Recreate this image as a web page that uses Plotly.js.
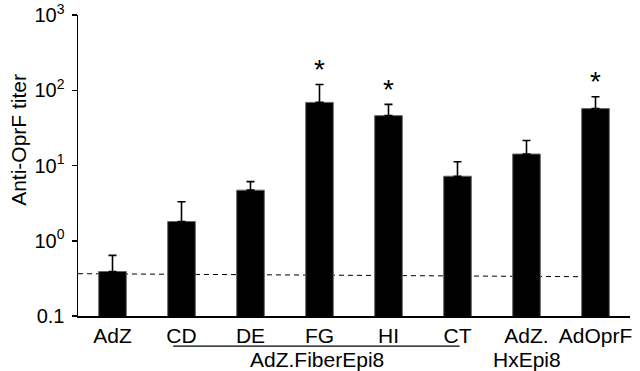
<!DOCTYPE html>
<html>
<head>
<meta charset="utf-8">
<script src="https://cdn.plot.ly/plotly-3.0.1.min.js"></script>
<style>html,body{margin:0;padding:0;background:#fff;}#chart{width:640px;height:371px;}</style>
</head>
<body>
<div id="chart"></div>
<script>
// ---- data ----
const categories = ["AdZ", "CD", "DE", "FG", "HI", "CT", "AdZ.HxEpi8", "AdOprF"];
const tickLabels = ["AdZ", "CD", "DE", "FG", "HI", "CT", "AdZ.", "AdOprF"];
const titerMean = [0.39, 1.8, 4.7, 69, 46, 7.2, 14.2, 57];
const titerUpper = [0.64, 3.3, 6.1, 119, 65, 11.2, 21.5, 82];
const significant = [false, false, false, true, true, false, false, true];
const cutoffStart = 0.365, cutoffEnd = 0.333;
const yTickVals = [0.1, 1, 10, 100, 1000];
const yTickText = ["0.1", "10<sup>0</sup>", "10<sup>1</sup>", "10<sup>2</sup>", "10<sup>3</sup>"];
const yTitle = "Anti-OprF titer";
const groupLabel = "AdZ.FiberEpi8";
const groupMembers = ["CD", "CT"];
const secondLine = {category: "AdZ.HxEpi8", text: "HxEpi8"};

const xIdx = categories.map((c, i) => i);
const errPlus = titerUpper.map((u, i) => u - titerMean[i]);
const FONT = "Arial, 'Liberation Sans', sans-serif";

const trace = {
  type: "bar",
  x: xIdx,
  y: titerMean,
  width: 0.4,
  marker: {color: "#000", line: {color: "#666", width: 1}},
  error_y: {type: "data", symmetric: false, array: errPlus, arrayminus: titerMean.map(() => 0),
            color: "#000", thickness: 1.6, width: 4},
  hoverinfo: "skip"
};

const annotations = [];
significant.forEach((s, i) => {
  if (s) annotations.push({x: i, y: Math.log10(titerUpper[i]), xref: "x", yref: "y", text: "*",
    showarrow: false, yanchor: "middle", yshift: 15, font: {family: FONT, size: 28, color: "#000"}});
});
const g0 = categories.indexOf(groupMembers[0]), g1 = categories.indexOf(groupMembers[1]);
annotations.push({x: (g0 + g1) / 2 - 0.03, y: -0.146, xref: "x", yref: "paper", text: groupLabel, showarrow: false,
  yanchor: "middle", font: {family: FONT, size: 21, color: "#000"}});
annotations.push({x: categories.indexOf(secondLine.category), y: -0.146, xref: "x", yref: "paper", text: secondLine.text,
  showarrow: false, yanchor: "middle", font: {family: FONT, size: 21, color: "#000"}});
annotations.push({x: -0.107, y: 0.585, xref: "paper", yref: "paper", text: yTitle, textangle: -90, showarrow: false,
  xanchor: "center", yanchor: "middle", font: {family: FONT, size: 21, color: "#000"}});

const shapes = [
  {type: "line", xref: "x", yref: "y", x0: -0.5, x1: categories.length - 1.2,
   y0: cutoffStart, y1: cutoffEnd, layer: "below",
   line: {color: "#000", width: 1, dash: "5px,4px"}},
  {type: "line", xref: "x", yref: "paper", x0: g0 - 0.12, x1: g1 + 0.03, y0: -0.1, y1: -0.1,
   line: {color: "#000", width: 1.3}}
];

const layout = {
  width: 640, height: 371,
  margin: {l: 78, r: 10, t: 15, b: 55},
  paper_bgcolor: "#fff", plot_bgcolor: "#fff",
  showlegend: false,
  font: {family: FONT, size: 21, color: "#000"},
  xaxis: {
    range: [-0.5, categories.length - 0.5],
    tickvals: xIdx, ticktext: tickLabels,
    showline: true, linecolor: "#000", linewidth: 1.5,
    ticks: "", showgrid: false, zeroline: false,
    tickfont: {family: FONT, size: 21, color: "#000"}
  },
  yaxis: {
    type: "log", range: [-1, 3],
    tickvals: yTickVals, ticktext: yTickText,
    showline: true, linecolor: "#000", linewidth: 1.5,
    ticks: "outside", ticklen: 5, tickwidth: 1.5, tickcolor: "#000",
    ticklabelstandoff: 3,
    showgrid: false, zeroline: false,
    tickfont: {family: FONT, size: 20, color: "#000"}
  },
  annotations: annotations,
  shapes: shapes
};

Plotly.newPlot("chart", [trace], layout, {displayModeBar: false, staticPlot: true});
</script>
</body>
</html>
